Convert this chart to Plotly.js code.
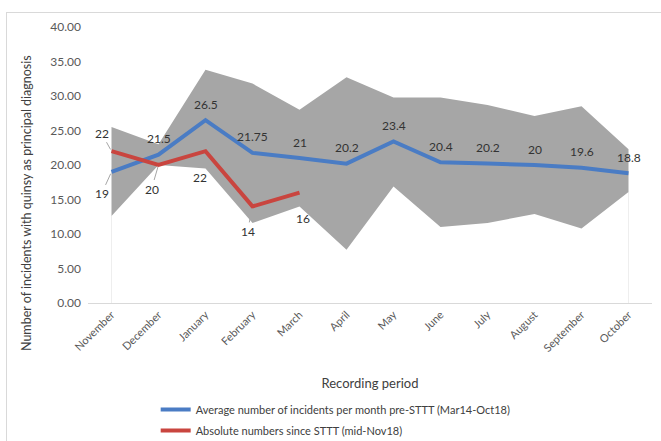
<!DOCTYPE html>
<html>
<head>
<meta charset="utf-8">
<script src="https://cdn.plot.ly/plotly-3.0.1.min.js"></script>
<style>
  html, body { margin: 0; padding: 0; background: #fff; }
  #frame { position: absolute; left: 6px; top: 12px; width: 700px; height: 480px;
           border-left: 1px solid #d9d9d9; border-top: 1px solid #d9d9d9; }
  #chart { position: absolute; left: 0; top: 0; width: 661px; height: 441px; }
</style>
</head>
<body>
<div id="frame"></div>
<div id="chart"></div>
<script>
// Recording months
const months = ['November', 'December', 'January', 'February', 'March', 'April',
                'May', 'June', 'July', 'August', 'September', 'October'];

// Monthly average incidents before STTT (Mar14-Oct18)
const avgPre = [19, 21.5, 26.5, 21.75, 21, 20.2, 23.4, 20.4, 20.2, 20, 19.6, 18.8];

// Range of monthly counts before STTT (shaded band)
const rangeLow  = [12.6, 20.0, 19.5, 11.6, 14.0, 7.7, 16.9, 11.0, 11.6, 12.9, 10.8, 16.1];
const rangeHigh = [25.5, 23.0, 33.8, 31.8, 28.0, 32.7, 29.8, 29.8, 28.7, 27.1, 28.5, 22.3];

// Absolute numbers since STTT (mid-Nov18)
const sinceMonths = ['November', 'December', 'January', 'February', 'March'];
const sinceSTTT = [22, 20, 22, 14, 16];

const FAMILY = 'Lato, "Open Sans", sans-serif';
const labelFont = { family: FAMILY, size: 12, color: '#333333' };
const blue = '#4A7CC4';
const red = '#C9453F';
const band = '#A6A6A6';

const n = months.length;

const traces = [
  // faint edges of the band down to the axis
  {
    x: [months[0], months[0], null, months[n - 1], months[n - 1]],
    y: [0, rangeLow[0], null, 0, rangeLow[n - 1]],
    mode: 'lines', line: { color: '#eeeeee', width: 1 },
    showlegend: false, hoverinfo: 'skip'
  },
  {
    x: months, y: rangeLow, mode: 'lines',
    line: { width: 0, color: band }, showlegend: false, hoverinfo: 'skip'
  },
  {
    x: months, y: rangeHigh, mode: 'lines', fill: 'tonexty', fillcolor: band,
    line: { width: 0, color: band }, showlegend: false, hoverinfo: 'skip'
  },
  {
    x: months, y: avgPre, mode: 'lines', legendgroup: 'pre',
    name: 'Average number of incidents per month pre-STTT (Mar14-Oct18)',
    line: { color: blue, width: 4 }
  },
  {
    x: sinceMonths, y: sinceSTTT, mode: 'lines', legendgroup: 'since',
    name: 'Absolute numbers since STTT (mid-Nov18)',
    line: { color: red, width: 4 }
  }
];

// Value labels: blue above the line, red below; a few use short leader lines
const leader = { showarrow: true, arrowhead: 0, arrowwidth: 1, arrowcolor: '#A6A6A6', standoff: 2 };
const annotations = [];
avgPre.forEach((v, i) => {
  const a = { x: months[i], y: v, text: String(v), font: labelFont };
  if (i === 0) {
    Object.assign(a, leader, { ax: -10, ay: 22 });
  } else {
    Object.assign(a, { showarrow: false, yshift: 16 });
  }
  annotations.push(a);
});
sinceSTTT.forEach((v, i) => {
  const a = { x: sinceMonths[i], y: v, text: String(v), font: labelFont };
  if (i === 0) {
    Object.assign(a, leader, { ax: -10, ay: -18 });
  } else if (i === 1) {
    Object.assign(a, leader, { ax: -7, ay: 24 });
  } else if (i === 3) {
    Object.assign(a, leader, { ax: -5, ay: 25 });
  } else if (i === 4) {
    Object.assign(a, { showarrow: false, yshift: -26, xshift: 3 });
  } else {
    Object.assign(a, { showarrow: false, yshift: -26, xshift: -6 });
  }
  annotations.push(a);
});

// Y axis title
annotations.push({
  xref: 'paper', yref: 'paper', x: -0.11, y: 0.362, xanchor: 'center', yanchor: 'middle',
  text: 'Number of incidents with quinsy as principal diagnosis', textangle: -90,
  showarrow: false, font: { family: FAMILY, size: 12.5, color: '#404040' }
});

const layout = {
  width: 661, height: 441,
  margin: { l: 88, r: 9, t: 27, b: 138, autoexpand: false },
  paper_bgcolor: 'rgba(0,0,0,0)', plot_bgcolor: 'rgba(0,0,0,0)',
  font: { family: FAMILY, color: '#595959' },
  xaxis: {
    type: 'category', categoryorder: 'array', categoryarray: months,
    range: [-0.5, n - 0.5], tickangle: -45, showgrid: false, zeroline: false,
    showline: true, linecolor: '#d9d9d9', linewidth: 1, ticks: '',
    tickfont: { size: 11, color: '#595959' },
    title: { text: 'Recording period', standoff: 25,
             font: { size: 13, color: '#404040' } }
  },
  yaxis: {
    range: [0, 40], dtick: 5, tickformat: '.2f', showgrid: false, zeroline: false,
    showline: false, ticks: '', ticklabelstandoff: 6,
    tickfont: { size: 12, color: '#595959' }
  },
  legend: {
    x: 0.12, y: -0.333, xanchor: 'left', yanchor: 'top', orientation: 'v',
    traceorder: 'grouped', tracegroupgap: 2,
    font: { size: 11, color: '#404040' }, bgcolor: 'rgba(0,0,0,0)'
  },
  annotations: annotations,
  showlegend: true
};

Plotly.newPlot('chart', traces, layout, { staticPlot: true, displayModeBar: false });
</script>
</body>
</html>
